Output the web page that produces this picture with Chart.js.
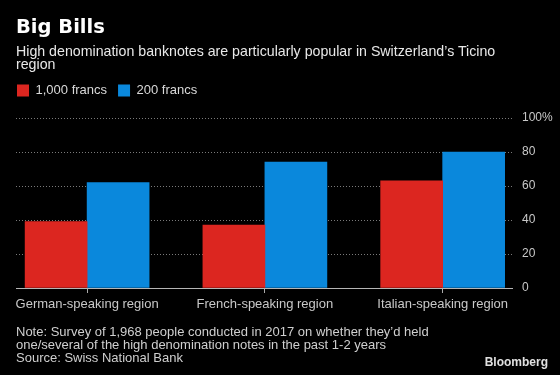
<!DOCTYPE html>
<html>

<head>
    <title>Big Bills</title>
    <script src="https://cdn.jsdelivr.net/npm/chart.js"></script>
    <style>
        body {
            margin: 0;
            background-color: #000;
            font-family: "Liberation Sans", Arial, sans-serif;
        }

        #wrap {
            position: relative;
            width: 560px;
            height: 375px;
            overflow: hidden;
        }

        #chartBox {
            position: absolute;
            left: 0;
            top: 0;
            width: 560px;
            height: 375px;
        }

        .txt {
            position: absolute;
            white-space: nowrap;
        }

        #title {
            left: 16px;
            top: 16px;
            font: bold 19.5px/22px "DejaVu Sans", sans-serif;
            color: #fff;
        }

        #subtitle {
            left: 16px;
            top: 45px;
            font-size: 14.2px;
            line-height: 13px;
            color: #e8e8e8;
        }

        #note {
            left: 16px;
            top: 325px;
            font-size: 13px;
            line-height: 13px;
            color: #cfcfcf;
        }

        #brand {
            right: 12px;
            top: 356px;
            font-weight: bold;
            font-size: 12px;
            line-height: 12px;
            color: #e0e0e0;
        }
    </style>
</head>

<body>
    <div id="wrap">
        <div id="chartBox"><canvas id="billsChart"></canvas></div>
        <div class="txt" id="title">Big Bills</div>
        <div class="txt" id="subtitle">High denomination banknotes are particularly popular in Switzerland’s Ticino<br>region</div>
        <div class="txt" id="note">Note: Survey of 1,968 people conducted in 2017 on whether they’d held<br>one/several of the high denomination notes in the past 1-2 years<br>Source: Swiss National Bank</div>
        <div class="txt" id="brand">Bloomberg</div>
    </div>

    <script>
        // data (share of people, %)
        const regions = ['German-speaking region', 'French-speaking region', 'Italian-speaking region'];
        const francs1000 = [39, 37, 63];
        const francs200 = [62, 74, 80];
        const yTicks = [0, 20, 40, 60, 80, 100];

        const red = '#dc2620';
        const blue = '#0a88dc';
        const tickFont = { family: '"Liberation Sans", Arial, sans-serif', size: 13 };

        // bars sit on index positions 0..2 of a linear x axis
        function toPoints(values) {
            return values.map((v, i) => ({ x: i, y: v }));
        }

        // push the plot down a bit below the legend
        const legendGap = {
            id: 'legendGap',
            beforeInit(chart) {
                const fit = chart.legend.fit;
                chart.legend.fit = function () {
                    fit.call(this);
                    this.height += 11;
                };
            }
        };

        const ctx = document.getElementById('billsChart').getContext('2d');
        const billsChart = new Chart(ctx, {
            type: 'bar',
            data: {
                datasets: [{
                    label: '1,000 francs',
                    data: toPoints(francs1000),
                    backgroundColor: red,
                    barThickness: 62,
                    xAxisID: 'x',
                    yAxisID: 'y'
                }, {
                    label: '200 francs',
                    data: toPoints(francs200),
                    backgroundColor: blue,
                    barThickness: 62,
                    xAxisID: 'x',
                    yAxisID: 'y'
                }]
            },
            options: {
                responsive: true,
                maintainAspectRatio: false,
                animation: false,
                layout: {
                    padding: { left: 6, right: 0, top: 73, bottom: 57 }
                },
                plugins: {
                    legend: {
                        position: 'top',
                        align: 'start',
                        labels: {
                            boxWidth: 12,
                            boxHeight: 12,
                            padding: 11,
                            color: '#d9d9d9',
                            font: tickFont
                        }
                    },
                    tooltip: { enabled: false }
                },
                scales: {
                    x: {
                        type: 'linear',
                        min: -0.4,
                        max: 2.39,
                        offset: false,
                        afterBuildTicks(scale) {
                            scale.ticks = regions.map((r, i) => ({ value: i }));
                        },
                        afterFit(scale) { scale.height = 30; },
                        grid: {
                            offset: false,
                            drawOnChartArea: false,
                            drawTicks: true,
                            tickLength: 5,
                            color: '#aaaaaa'
                        },
                        border: { display: true, color: '#b5b5b5', width: 1 },
                        ticks: {
                            color: '#c8c8c8',
                            font: tickFont,
                            padding: 4,
                            maxRotation: 0,
                            autoSkip: false,
                            callback: (value) => regions[value]
                        }
                    },
                    y: {
                        position: 'right',
                        min: 0,
                        max: 100,
                        afterBuildTicks(scale) {
                            scale.ticks = yTicks.map(v => ({ value: v }));
                        },
                        afterFit(scale) { scale.width = 48; },
                        grid: {
                            drawTicks: false,
                            color: (c) => c.tick && c.tick.value === 0 ? 'rgba(0,0,0,0)' : '#7a7a7a'
                        },
                        border: { display: false, dash: [1, 2] },
                        ticks: {
                            color: '#c8c8c8',
                            font: { family: '"Liberation Sans", Arial, sans-serif', size: 12 },
                            padding: 10,
                            callback: (value) => value === 100 ? '100%' : value
                        }
                    },
                    // empty spacer so the plot starts a little right of the legend
                    pad: {
                        type: 'linear',
                        position: 'left',
                        display: true,
                        ticks: { display: false },
                        grid: { display: false },
                        border: { display: false },
                        afterFit(scale) { scale.width = 10; }
                    }
                }
            },
            plugins: [legendGap]
        });
    </script>
</body>

</html>
